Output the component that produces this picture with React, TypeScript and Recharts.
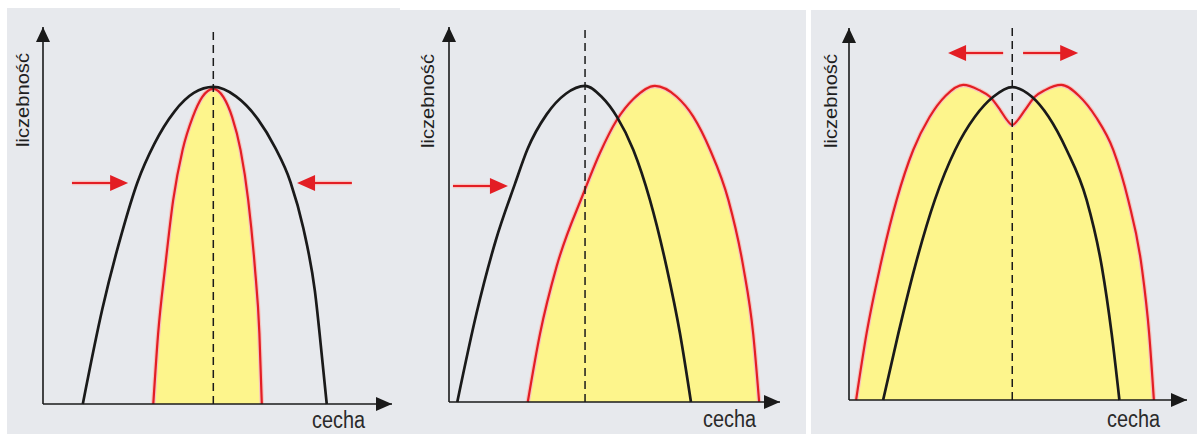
import { Area, ComposedChart, Line, ReferenceDot, ReferenceLine, XAxis, YAxis } from "recharts";

type Pt = { x: number; y: number };
type Arrow = { x1: number; y1: number; x2: number; y2: number };

// dobór stabilizujący
const stabBefore: Pt[] = [
  { x: 11.4, y: 0 }, { x: 17.0, y: 25.2 }, { x: 22.6, y: 45.4 }, { x: 27.1, y: 58.9 },
  { x: 31.9, y: 69.0 }, { x: 37.6, y: 77.5 }, { x: 43.2, y: 82.5 }, { x: 48.8, y: 84.1 },
  { x: 55.3, y: 81.6 }, { x: 61.6, y: 75.5 }, { x: 66.4, y: 68.2 }, { x: 70.9, y: 58.9 },
  { x: 74.6, y: 46.6 }, { x: 77.9, y: 30.0 }, { x: 80.1, y: 11.0 }, { x: 81.3, y: 0 }
];
const stabAfter: Pt[] = [
  { x: 31.6, y: 0 }, { x: 33.0, y: 18.8 }, { x: 35.0, y: 36.3 }, { x: 37.3, y: 54.1 },
  { x: 40.0, y: 67.4 }, { x: 42.9, y: 76.1 }, { x: 45.6, y: 81.4 }, { x: 48.8, y: 83.6 },
  { x: 51.7, y: 81.4 }, { x: 54.2, y: 76.1 }, { x: 56.6, y: 67.4 }, { x: 58.8, y: 54.1 },
  { x: 60.7, y: 36.3 }, { x: 62.0, y: 18.8 }, { x: 62.7, y: 0 }
];
const stabMean = 48.8;
const stabArrows: Arrow[] = [
  { x1: 8.3, y1: 58.6, x2: 24.4, y2: 58.6 },
  { x1: 88.5, y1: 58.6, x2: 72.8, y2: 58.6 }
];

// dobór kierunkowy
const dirBefore: Pt[] = [
  { x: 2.5, y: 0 }, { x: 8.3, y: 23.6 }, { x: 14.1, y: 43.0 }, { x: 19.9, y: 58.1 },
  { x: 23.7, y: 67.4 }, { x: 29.5, y: 76.7 }, { x: 35.3, y: 82.2 }, { x: 41.1, y: 84.3 },
  { x: 46.1, y: 81.4 }, { x: 50.7, y: 76.1 }, { x: 55.7, y: 67.2 }, { x: 60.7, y: 53.9 },
  { x: 65.7, y: 36.1 }, { x: 69.8, y: 18.2 }, { x: 73.1, y: 0 }
];
const dirAfter: Pt[] = [
  { x: 23.8, y: 0 }, { x: 27.5, y: 18.2 }, { x: 32.5, y: 36.1 }, { x: 40.6, y: 55.6 },
  { x: 45.6, y: 66.4 }, { x: 50.7, y: 75.2 }, { x: 55.7, y: 80.8 }, { x: 62.2, y: 84.3 },
  { x: 68.8, y: 81.4 }, { x: 73.8, y: 76.1 }, { x: 78.9, y: 67.2 }, { x: 84.4, y: 53.9 },
  { x: 88.9, y: 36.1 }, { x: 91.9, y: 18.2 }, { x: 93.7, y: 0 }
];
const dirMean = 41.1;
const dirArrows: Arrow[] = [{ x1: 1.2, y1: 57.6, x2: 17.8, y2: 57.6 }];

// dobór rozrywający
const disBefore: Pt[] = [
  { x: 10.1, y: 0 }, { x: 14.6, y: 17.9 }, { x: 19.5, y: 35.8 }, { x: 25.4, y: 53.8 },
  { x: 31.4, y: 67.2 }, { x: 37.3, y: 76.2 }, { x: 42.7, y: 81.5 }, { x: 48.3, y: 84.1 },
  { x: 54.1, y: 81.5 }, { x: 59.0, y: 76.2 }, { x: 64.4, y: 67.2 }, { x: 70.3, y: 53.8 },
  { x: 74.8, y: 35.8 }, { x: 77.7, y: 17.9 }, { x: 80.0, y: 0 }
];
const disAfter: Pt[] = [
  { x: 2.1, y: 0 }, { x: 5.2, y: 17.9 }, { x: 9.2, y: 35.8 }, { x: 14.1, y: 53.8 },
  { x: 19.0, y: 67.2 }, { x: 23.8, y: 76.0 }, { x: 28.6, y: 81.8 }, { x: 33.8, y: 84.7 },
  { x: 38.5, y: 83.3 }, { x: 41.7, y: 81.5 }, { x: 44.7, y: 78.0 }, { x: 46.7, y: 75.3 },
  { x: 48.3, y: 73.9 }, { x: 50.0, y: 75.3 }, { x: 52.1, y: 78.0 }, { x: 55.0, y: 81.5 },
  { x: 58.0, y: 83.3 }, { x: 62.8, y: 84.7 }, { x: 68.0, y: 81.8 }, { x: 73.1, y: 76.0 },
  { x: 78.2, y: 67.2 }, { x: 82.6, y: 53.8 }, { x: 86.6, y: 35.8 }, { x: 88.8, y: 17.9 },
  { x: 90.2, y: 0 }
];
const disMean = 48.3;
const disArrows: Arrow[] = [
  { x1: 45.6, y1: 93.3, x2: 29.3, y2: 93.3 },
  { x1: 51.5, y1: 93.3, x2: 67.8, y2: 93.3 }
];

const yLabel = "liczebność";
const xLabel = "cecha";

const RED = "#e31e24";
const HALO = "#f5c4c0";
const YELLOW = "#fdf58c";
const INK = "#1a1a1a";
const PANEL_BG = "#e7e9ed";

const redArrow = (p: any) => {
  const { x1, y1, x2, y2 } = p;
  const dx = x2 - x1;
  const dy = y2 - y1;
  const len = Math.hypot(dx, dy) || 1;
  const ux = dx / len;
  const uy = dy / len;
  const hl = 18;
  const hw = 8;
  const bx = x2 - ux * hl;
  const by = y2 - uy * hl;
  return (
    <g>
      <line x1={x1} y1={y1} x2={bx + ux * 2} y2={by + uy * 2} stroke={HALO} strokeWidth={4.5} />
      <line x1={x1} y1={y1} x2={bx + ux * 2} y2={by + uy * 2} stroke={RED} strokeWidth={2} />
      <polygon
        points={`${x2},${y2} ${bx - uy * hw},${by + ux * hw} ${bx + uy * hw},${by - ux * hw}`}
        fill={RED}
      />
    </g>
  );
};

const upHead = (p: any) => (
  <polygon points={`${p.cx},${p.cy} ${p.cx - 7},${p.cy + 15} ${p.cx + 7},${p.cy + 15}`} fill={INK} />
);
const rightHead = (p: any) => (
  <polygon points={`${p.cx},${p.cy} ${p.cx - 16},${p.cy - 7} ${p.cx - 16},${p.cy + 7}`} fill={INK} />
);

interface PanelProps {
  left: number;
  width: number;
  margin: { top: number; right: number; bottom: number; left: number };
  before: Pt[];
  after: Pt[];
  mean: number;
  arrows: Arrow[];
}

function Panel({ left, width, margin, before, after, mean, arrows }: PanelProps) {
  return (
    <div style={{ position: "absolute", left, top: 0 }}>
      <ComposedChart width={width} height={434} margin={margin}>
        <XAxis type="number" dataKey="x" domain={[0, 100]} hide />
        <YAxis type="number" domain={[0, 100]} hide />
        <Area
          data={after}
          dataKey="y"
          type="monotone"
          stroke="none"
          fill={YELLOW}
          fillOpacity={1}
          baseValue={0}
          isAnimationActive={false}
        />
        <Line
          data={after}
          dataKey="y"
          type="monotone"
          stroke={HALO}
          strokeWidth={4.5}
          dot={false}
          isAnimationActive={false}
        />
        <Line
          data={after}
          dataKey="y"
          type="monotone"
          stroke={RED}
          strokeWidth={2.2}
          dot={false}
          isAnimationActive={false}
        />
        <Line
          data={before}
          dataKey="y"
          type="monotone"
          stroke={INK}
          strokeWidth={2.7}
          dot={false}
          isAnimationActive={false}
        />
        <ReferenceLine x={mean} stroke={INK} strokeWidth={1.5} strokeDasharray="8 5" />
        <ReferenceLine
          segment={[{ x: 0, y: 0 }, { x: 100, y: 0 }]}
          stroke={INK}
          strokeWidth={1.6}
          ifOverflow="visible"
        />
        <ReferenceLine
          segment={[{ x: 0, y: 0 }, { x: 0, y: 100 }]}
          stroke={INK}
          strokeWidth={1.6}
          ifOverflow="visible"
        />
        {arrows.map((a, i) => (
          <ReferenceLine
            key={i}
            segment={[{ x: a.x1, y: a.y1 }, { x: a.x2, y: a.y2 }]}
            shape={redArrow}
            ifOverflow="visible"
          />
        ))}
        <ReferenceDot x={0} y={100} r={1} shape={upHead} ifOverflow="visible" />
        <ReferenceDot x={100} y={0} r={1} shape={rightHead} ifOverflow="visible" />
      </ComposedChart>
    </div>
  );
}

const labelFont = "'Liberation Sans Narrow', 'Liberation Sans', Arial, sans-serif";

export default function App() {
  const yLabels = [
    { x: 29, y: 100 },
    { x: 434, y: 101 },
    { x: 837, y: 101 }
  ];
  const xLabels = [
    { x: 312, y: 428 },
    { x: 703, y: 427 },
    { x: 1107, y: 427 }
  ];
  return (
    <div style={{ position: "absolute", left: 0, top: 0, width: 1197, height: 434, background: "#fff", overflow: "hidden" }}>
      <div style={{ position: "absolute", left: 7, top: 8, width: 393, height: 426, background: PANEL_BG }} />
      <div style={{ position: "absolute", left: 400, top: 10, width: 406, height: 424, background: PANEL_BG }} />
      <div style={{ position: "absolute", left: 811, top: 10, width: 386, height: 424, background: PANEL_BG }} />

      <Panel
        left={0}
        width={400}
        margin={{ top: 27, left: 43, right: 8, bottom: 30 }}
        before={stabBefore}
        after={stabAfter}
        mean={stabMean}
        arrows={stabArrows}
      />
      <Panel
        left={400}
        width={400}
        margin={{ top: 27, left: 49, right: 20, bottom: 32 }}
        before={dirBefore}
        after={dirAfter}
        mean={dirMean}
        arrows={dirArrows}
      />
      <Panel
        left={800}
        width={397}
        margin={{ top: 28, left: 49, right: 10, bottom: 34 }}
        before={disBefore}
        after={disAfter}
        mean={disMean}
        arrows={disArrows}
      />

      <svg width={1197} height={434} style={{ position: "absolute", left: 0, top: 0, pointerEvents: "none" }}>
        {yLabels.map((p, i) => (
          <text
            key={"y" + i}
            x={p.x}
            y={p.y}
            transform={`rotate(-90 ${p.x} ${p.y})`}
            textAnchor="middle"
            fontFamily={labelFont}
            fontSize={18}
            fill="#1f1f1f"
            textLength={94}
            lengthAdjust="spacingAndGlyphs"
          >
            {yLabel}
          </text>
        ))}
        {xLabels.map((p, i) => (
          <text
            key={"x" + i}
            x={p.x}
            y={p.y}
            fontFamily={labelFont}
            fontSize={23}
            fill="#2a2a2a"
            textLength={53}
            lengthAdjust="spacingAndGlyphs"
          >
            {xLabel}
          </text>
        ))}
      </svg>
    </div>
  );
}
